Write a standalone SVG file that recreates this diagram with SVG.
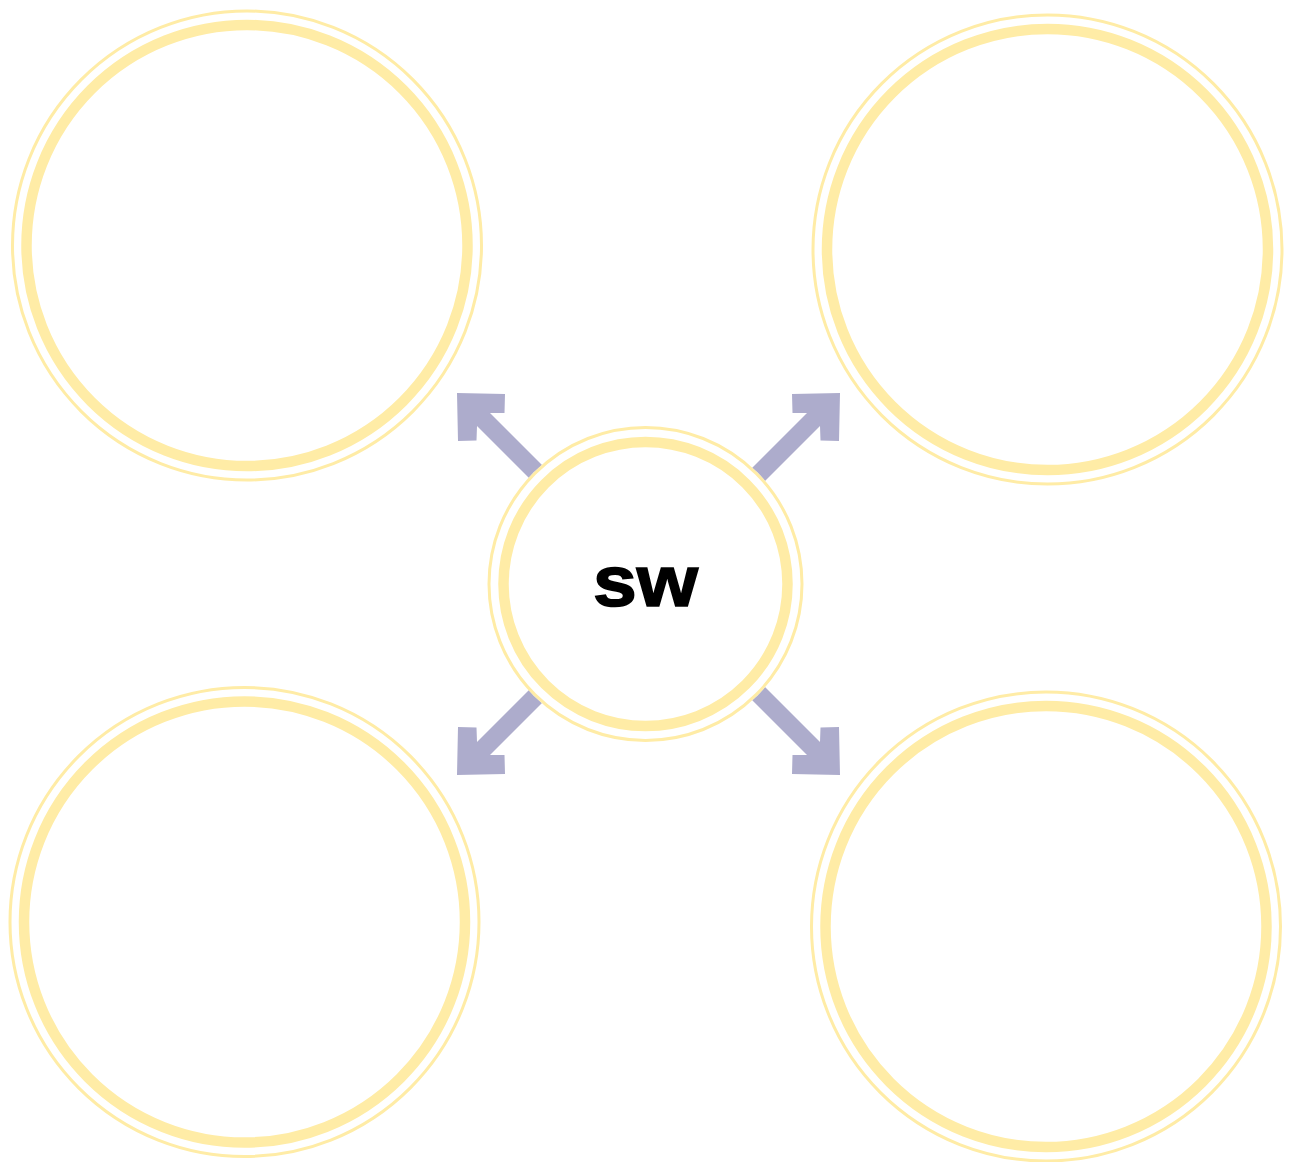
<svg xmlns="http://www.w3.org/2000/svg" width="1290" height="1162" viewBox="0 0 1290 1162">
<style>
.thin{fill:none;stroke:#FFECA6;stroke-width:3}
.thick{fill:none;stroke:#FFECA6;stroke-width:10.5}
.arrow{fill:#ADACCC}
.label{font-family:"Liberation Sans",Arial,sans-serif;font-weight:bold;font-size:73px;fill:#000;stroke:#000;stroke-width:1.6}
</style>
<defs>
<polygon id="arr" points="0,0 48,1 47.5,20 33,20 120,107 107,120 20,33 19.5,47.5 1,48"/>
</defs>
<g id="node-tl">
<circle class="thin" cx="247" cy="245.5" r="234.5"/>
<circle class="thick" cx="247" cy="245.5" r="220.5"/>
</g>
<g id="node-tr">
<circle class="thin" cx="1047.5" cy="249.5" r="234.5"/>
<circle class="thick" cx="1047.5" cy="249.5" r="220.5"/>
</g>
<g id="node-bl">
<circle class="thin" cx="244.5" cy="922" r="234.5"/>
<circle class="thick" cx="244.5" cy="922" r="220.5"/>
</g>
<g id="node-br">
<circle class="thin" cx="1046" cy="926.5" r="234.5"/>
<circle class="thick" cx="1046" cy="926.5" r="220.5"/>
</g>
<g id="connectors">
<use href="#arr" class="arrow" transform="translate(457,393)"/>
<use href="#arr" class="arrow" transform="translate(840,393) scale(-1,1)"/>
<use href="#arr" class="arrow" transform="translate(457,775) scale(1,-1)"/>
<use href="#arr" class="arrow" transform="translate(840,775) scale(-1,-1)"/>
</g>
<g id="node-center">
<circle cx="645.5" cy="584" r="158" fill="#fff"/>
<circle class="thin" cx="645.5" cy="584" r="156.5"/>
<circle class="thick" cx="645.5" cy="584" r="142"/>
<text class="label" x="645.5" y="606" text-anchor="middle" textLength="105" lengthAdjust="spacingAndGlyphs">sw</text>
</g>
</svg>
